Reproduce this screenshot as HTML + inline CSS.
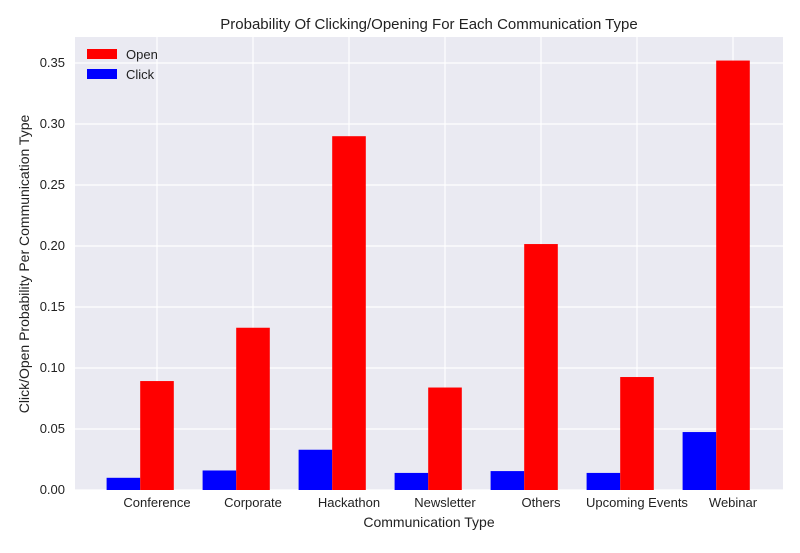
<!DOCTYPE html>
<html><head><meta charset="utf-8"><style>
body{margin:0;background:#fff;font-family:"Liberation Sans",sans-serif;}
svg text{font-family:"Liberation Sans",sans-serif;fill:#222;}
</style></head><body>
<svg width="800" height="548" id="c">
<rect x="0" y="0" width="800" height="548" fill="#fff"/>
<rect x="75" y="37" width="708" height="453" fill="#eaeaf2"/>
<g id="grid"></g><g id="bars"></g><g id="ticks"></g>
<text x="429" y="29" text-anchor="middle" font-size="15">Probability Of Clicking/Opening For Each Communication Type</text>
<text x="429" y="527" text-anchor="middle" font-size="14">Communication Type</text>
<text transform="translate(29,264) rotate(-90)" text-anchor="middle" font-size="14">Click/Open Probability Per Communication Type</text>
<g>
<rect x="87" y="49" width="30" height="10" fill="#ff0000"/>
<text x="126" y="59" font-size="13">Open</text>
<rect x="87" y="69" width="30" height="10" fill="#0000ff"/>
<text x="126" y="79" font-size="13">Click</text>
</g>
</svg>
<script>
const categories=["Conference","Corporate","Hackathon","Newsletter","Others","Upcoming Events","Webinar"];
const clickValues=[0.010,0.016,0.033,0.014,0.0155,0.014,0.0475];
const openValues=[0.0893,0.133,0.290,0.084,0.2016,0.0926,0.352];
const yTicks=[0,0.05,0.10,0.15,0.20,0.25,0.30,0.35];
const NS="http://www.w3.org/2000/svg";
const y=v=>490-v*1220;
const xc=i=>157+i*96;
const bw=33.6;
function mk(t,a,p){const e=document.createElementNS(NS,t);for(const k in a)e.setAttribute(k,a[k]);p.appendChild(e);return e;}
const grid=document.getElementById('grid'),bars=document.getElementById('bars'),ticks=document.getElementById('ticks');
yTicks.forEach(v=>{
 const l=mk('line',{x1:75,x2:783,y1:y(v),y2:y(v),stroke:'#fff','stroke-width':1.2},grid);
 
 
 const t=mk('text',{x:65,y:y(v)+4,'text-anchor':'end','font-size':13},ticks);
 t.textContent=v.toFixed(2);
 
 
});
categories.forEach((c,i)=>{
 const l=mk('line',{x1:xc(i),x2:xc(i),y1:37,y2:490,stroke:'#fff','stroke-width':1.2},grid);
 
 
 const b1=mk('rect',{x:xc(i)-bw*1.5,y:y(clickValues[i]),width:bw,height:490-y(clickValues[i]),fill:'#0000ff'},bars);
 
 
 const b2=mk('rect',{x:xc(i)-bw/2,y:y(openValues[i]),width:bw,height:490-y(openValues[i]),fill:'#ff0000'},bars);
 
 
 const t=mk('text',{x:xc(i),y:507,'text-anchor':'middle','font-size':13},ticks);
 t.textContent=c;
 
 
});
</script>
</body></html>
